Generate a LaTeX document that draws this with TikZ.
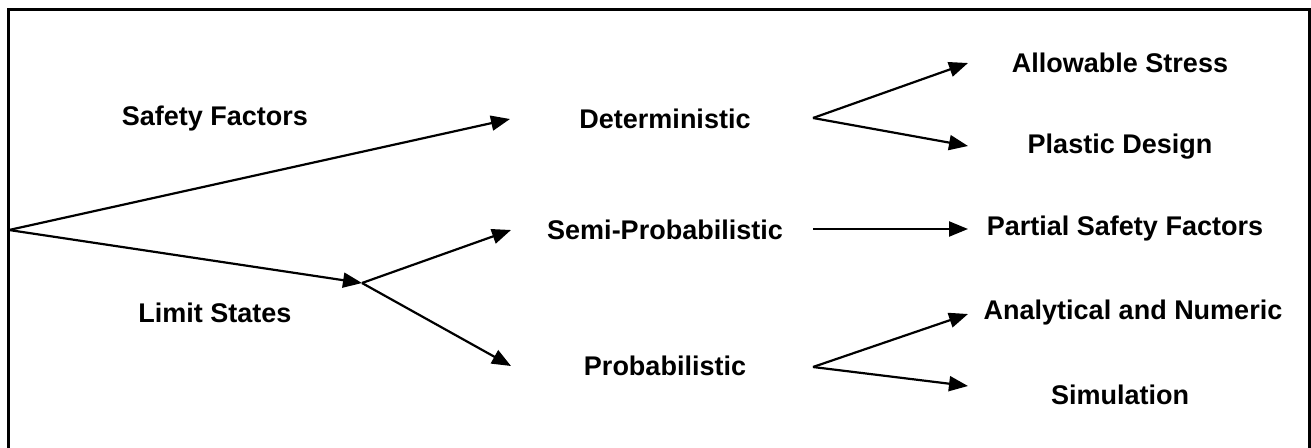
\documentclass[tikz,border=0pt]{standalone}
\usepackage{fontspec}
\setmainfont{Liberation Sans}
\usetikzlibrary{arrows.meta}
\begin{document}
\begin{tikzpicture}[x=1pt,y=-1pt,
  lbl/.style={font=\fontsize{27}{30}\selectfont\bfseries, inner sep=0pt, anchor=center},
  conn/.style={line width=2.2pt, -{Triangle[length=19pt,width=15pt]}}]
\useasboundingbox (0,0) rectangle (1311,447);
\fill[white] (0,0) rectangle (1311,447);
\draw[line width=3pt] (8.5,470) -- (8.5,9) -- (1309.5,9) -- (1309.5,470);
% labels
\node[lbl] (sf) at (215,119) {Safety Factors};
\node[lbl] (ls) at (215,313) {Limit States};
\node[lbl] (det) at (665,119) {Deterministic};
\node[lbl] (semi) at (665,230) {Semi-Probabilistic};
\node[lbl] (prob) at (665,366) {Probabilistic};
\node[lbl] (as) at (1120,63) {Allowable Stress};
\node[lbl] (pd) at (1120,147) {Plastic Design};
\node[lbl] (psf) at (1125,229) {Partial Safety Factors};
\node[lbl] (an) at (1133,313) {Analytical and Numeric};
\node[lbl] (sim) at (1120,395) {Simulation};
% branch points and arrow ends
\coordinate (root) at (9,230);
\coordinate (lsb) at (362,283);
\coordinate (detin) at (510,119);
\coordinate (semiin) at (511,230);
\coordinate (probin) at (511,366);
\coordinate (detout) at (813,118);
\coordinate (semiout) at (813,229);
\coordinate (probout) at (813,367);
\coordinate (asin) at (968,63);
\coordinate (pdin) at (968,146);
\coordinate (psfin) at (968,229);
\coordinate (anin) at (968,314);
\coordinate (simin) at (968,386);
% connectors
\draw[conn] (root) -- (detin);
\draw[conn] (root) -- (lsb);
\draw[conn] (lsb) -- (semiin);
\draw[conn] (lsb) -- (probin);
\draw[conn] (detout) -- (asin);
\draw[conn] (detout) -- (pdin);
\draw[conn] (semiout) -- (psfin);
\draw[conn] (probout) -- (anin);
\draw[conn] (probout) -- (simin);
\end{tikzpicture}
\end{document}
